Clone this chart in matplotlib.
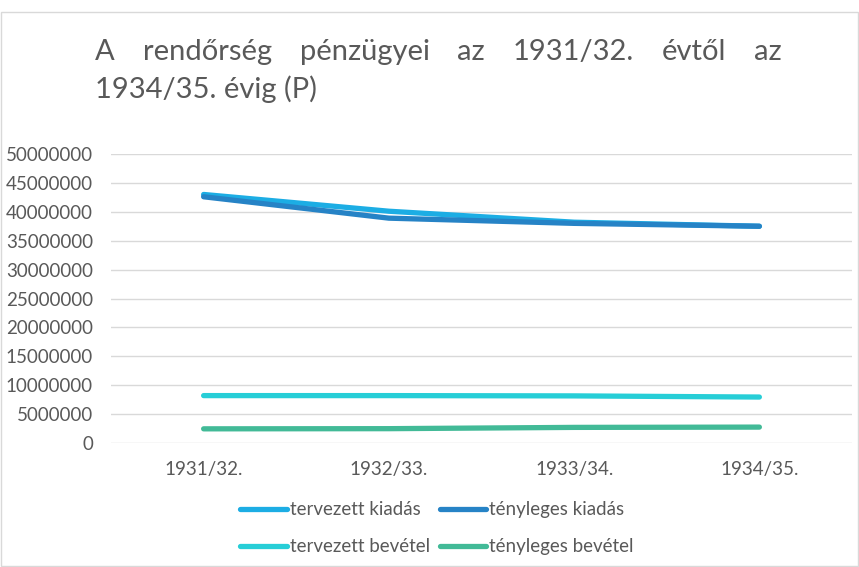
import matplotlib.pyplot as plt
from matplotlib.patches import Rectangle

# data
years = ['1931/32.', '1932/33.', '1933/34.', '1934/35.']
tervezett_kiadas = [43000000, 40100000, 38200000, 37500000]
tenyleges_kiadas = [42600000, 38900000, 38000000, 37500000]
tervezett_bevetel = [8200000, 8200000, 8150000, 7950000]
tenyleges_bevetel = [2450000, 2480000, 2700000, 2750000]

title_line1 = 'A rendőrség pénzügyei az 1931/32. évtől az'
title_line2 = '1934/35. évig (P)'

plt.rcParams['font.family'] = ['Lato', 'DejaVu Sans']
grey = '#595959'

fig = plt.figure(figsize=(8.59, 5.67), dpi=100)
fig.patches.append(Rectangle((1 / 859, 1 / 567), 857 / 859, 554 / 567, transform=fig.transFigure,
                             fill=False, edgecolor='#d9d9d9', linewidth=1))

ax = fig.add_axes([111 / 859, (567 - 443) / 567, 741 / 859, 289 / 567])
x = range(len(years))
series = [
    (tervezett_kiadas, 'tervezett kiadás', '#1CADE4'),
    (tenyleges_kiadas, 'tényleges kiadás', '#2683C6'),
    (tervezett_bevetel, 'tervezett bevétel', '#27CED7'),
    (tenyleges_bevetel, 'tényleges bevétel', '#42BA97'),
]
lines = []
for vals, name, col in series:
    ln, = ax.plot(x, vals, color=col, linewidth=3.8, solid_capstyle='round',
                  solid_joinstyle='round', label=name)
    lines.append(ln)

ax.set_xlim(-0.5, 3.5)
ax.set_ylim(0, 50000000)
ax.set_yticks(range(0, 50000001, 5000000))
ax.set_yticklabels([str(v) for v in range(0, 50000001, 5000000)])
ax.set_xticks(list(x))
ax.set_xticklabels(years)
ax.grid(axis='y', color='#d9d9d9', linewidth=1)
ax.set_axisbelow(True)
for s in ax.spines.values():
    s.set_visible(False)
ax.tick_params(length=0, colors=grey, labelsize=13.5)
ax.tick_params(axis='y', pad=13)
ax.tick_params(axis='x', pad=13)

# legend is filled column by column, so reorder to get rows like the original
order = [0, 2, 1, 3]
leg = ax.legend([lines[i] for i in order], [series[i][1] for i in order],
                loc='center', bbox_to_anchor=(0.44, -0.295), ncol=2, frameon=False,
                fontsize=13.5, handlelength=2.5, handletextpad=0.15, columnspacing=0.5,
                labelspacing=1.05, labelcolor=grey)

# justified title, first line spread between x=95 and x=782 px
fig.canvas.draw()
r = fig.canvas.get_renderer()
words = title_line1.split(' ')
left, right = 95 / 859, 782 / 859
y1 = 1 - 60 / 567
texts = [fig.text(0, y1, w, fontsize=21, color=grey, va='baseline') for w in words]
widths = [t.get_window_extent(r).width / fig.bbox.width for t in texts]
gap = (right - left - sum(widths)) / (len(words) - 1)
pos = left
for t, w in zip(texts, widths):
    t.set_x(pos)
    pos += w + gap
fig.text(left, 1 - 98 / 567, title_line2, fontsize=21, color=grey, va='baseline')

fig.savefig('out.png', dpi=100)
